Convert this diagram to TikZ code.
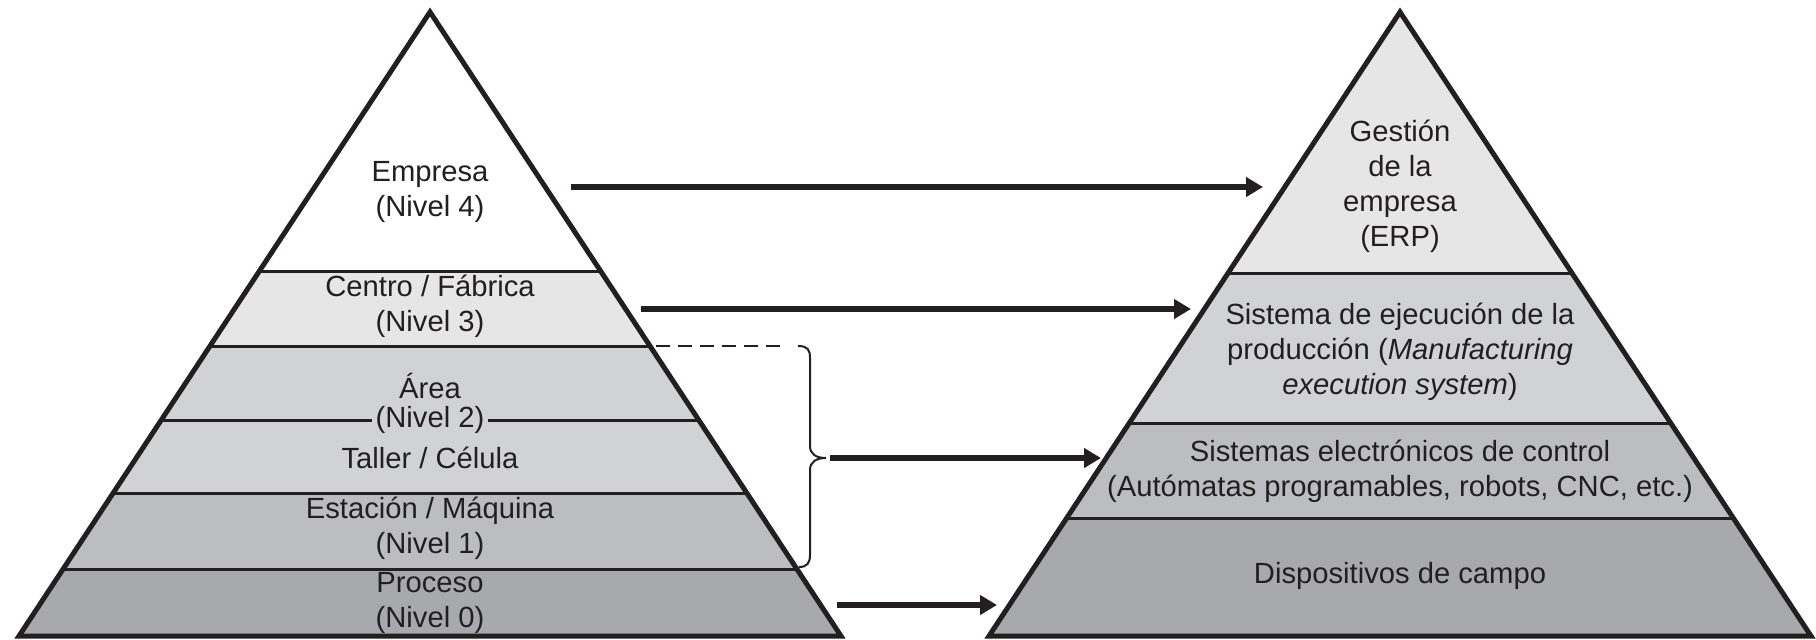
\documentclass[tikz,border=0pt]{standalone}
\usepackage{fontspec}
\setmainfont{Liberation Sans}
\usetikzlibrary{arrows.meta}
\definecolor{txt}{HTML}{231F20}
\definecolor{gA}{HTML}{E6E6E7}
\definecolor{gB}{HTML}{D1D2D4}
\definecolor{gC}{HTML}{BCBDC0}
\definecolor{gD}{HTML}{A7A9AC}
\tikzset{
  outline/.style={draw=txt,line width=2.5pt,line join=miter},
  layer/.style={draw=txt,line width=1.5pt},
  lbl/.style={text=txt,align=center,inner sep=0pt,font=\fontsize{14.6pt}{17.5pt}\selectfont},
  conn/.style={draw=txt,line width=3pt,-{Triangle[length=8.5pt,width=9.5pt]}},
  brace/.style={draw=txt,line width=1pt},
}
\begin{document}
\begin{tikzpicture}[x=0.5pt,y=-0.5pt]
\useasboundingbox (0,0) rectangle (1816,639);
% ---- left pyramid
\begin{scope}
\clip (430,12) -- (841,636) -- (19,636) -- cycle;
\fill[white] (0,0) rectangle (900,271);
\fill[gA] (0,271) rectangle (900,346);
\fill[gB] (0,346) rectangle (900,493);
\fill[gC] (0,493) rectangle (900,569);
\fill[gD] (0,569) rectangle (900,639);
\draw[layer] (0,271) -- (900,271);
\draw[layer] (0,346) -- (900,346);
\draw[layer] (0,420) -- (900,420);
\draw[layer] (0,493) -- (900,493);
\draw[layer] (0,569) -- (900,569);
\end{scope}
\draw[outline] (430,12) -- (841,636) -- (19,636) -- cycle;
% ---- right pyramid
\begin{scope}
\clip (1400,12) -- (1811,636) -- (989,636) -- cycle;
\fill[gA] (900,0) rectangle (1816,273);
\fill[gB] (900,273) rectangle (1816,423);
\fill[gC] (900,423) rectangle (1816,518);
\fill[gD] (900,518) rectangle (1816,639);
\draw[layer] (900,273) -- (1816,273);
\draw[layer] (900,423) -- (1816,423);
\draw[layer] (900,518) -- (1816,518);
\end{scope}
\draw[outline] (1400,12) -- (1811,636) -- (989,636) -- cycle;
% ---- left labels
\node[lbl] (n4) at (430,192) {Empresa\\(Nivel 4)};
\node[lbl] (n3) at (430,306) {Centro / Fábrica\\(Nivel 3)};
\node[lbl] (area) at (430,386) {Área};
\node[lbl,fill=gB,inner xsep=2pt] (n2) at (430,420) {(Nivel 2)};
\node[lbl] (taller) at (430,458) {Taller / Célula};
\node[lbl] (n1) at (430,528) {Estación / Máquina\\(Nivel 1)};
\node[lbl] (n0) at (430,603) {Proceso\\(Nivel 0)};
% ---- right labels
\node[lbl] (erp) at (1400,186) {Gestión\\de la\\empresa\\(ERP)};
\node[lbl] (mes) at (1400,352) {Sistema de ejecución de la\\producción (\textit{Manufacturing}\\\textit{execution system})};
\node[lbl] (ctrl) at (1400,471) {Sistemas electrónicos de control\\(Autómatas programables, robots, CNC, etc.)};
\node[lbl] (campo) at (1400,576) {Dispositivos de campo};
% ---- dashed line and brace
\coordinate (dA) at (656,346);
\coordinate (dB) at (786,346);
\draw[draw=txt,line width=1pt,dash pattern=on 7pt off 4pt] (dA) -- (dB);
\coordinate (bT) at (798,346);
\coordinate (bM) at (826,458);
\coordinate (bB) at (799,567);
\draw[brace] (bT) .. controls (808,346) and (810,350) .. (810,358)
  -- (810,446) .. controls (810,454) and (816,458) .. (bM)
  .. controls (816,458) and (810,462) .. (810,470)
  -- (810,555) .. controls (810,563) and (807,567) .. (bB);
% ---- arrows
\coordinate (s1) at (571,187);
\coordinate (t1) at (1263,187);
\coordinate (s2) at (641,309);
\coordinate (t2) at (1191,309);
\coordinate (s3) at (830,458);
\coordinate (t3) at (1101,458);
\coordinate (s4) at (837,605);
\coordinate (t4) at (997,605);
\draw[conn] (s1) -- (t1);
\draw[conn] (s2) -- (t2);
\draw[conn] (s3) -- (t3);
\draw[conn] (s4) -- (t4);
\end{tikzpicture}
\end{document}
